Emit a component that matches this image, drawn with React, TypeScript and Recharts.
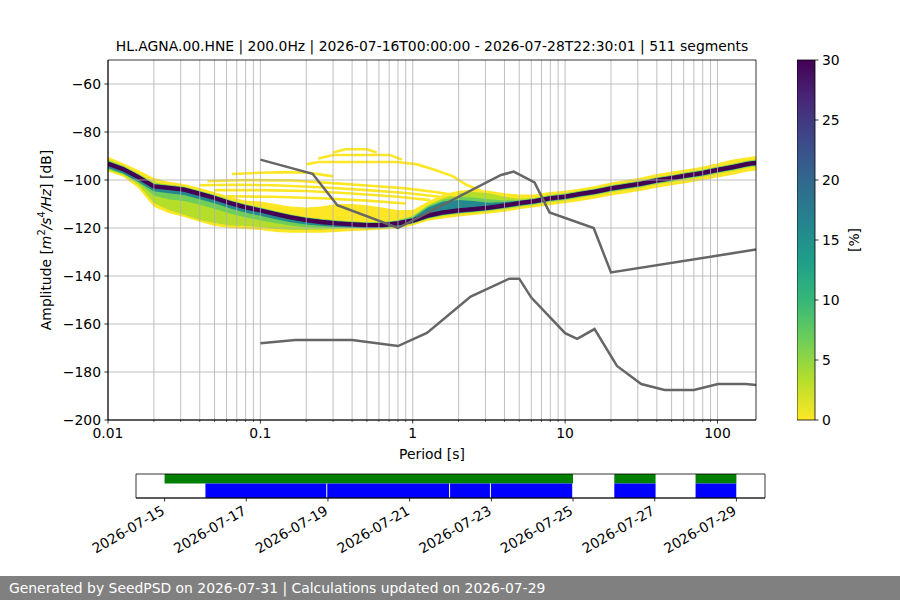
import React from 'react';
import {
  ComposedChart, Area, Line, XAxis, YAxis, ReferenceLine, ReferenceArea, BarChart, Bar,
} from 'recharts';

const FONT = '"DejaVu Sans", "Liberation Sans", sans-serif';
const FS = 13.9;

// ---------- PPSD histogram, read per period column ----------
const periods = [0.01, 0.0126, 0.0158, 0.02, 0.025, 0.0316, 0.04, 0.05, 0.063, 0.079, 0.1, 0.126, 0.158, 0.2, 0.25, 0.316, 0.4, 0.5, 0.63, 0.79, 1, 1.26, 1.58, 2, 2.5, 3.16, 4, 5, 6.3, 7.9, 10, 12.6, 15.8, 20, 25, 31.6, 40, 50, 63, 79, 100, 126, 158, 179];
const modeDb = [-93.2, -95.5, -98.8, -102.7, -103.3, -104, -105.8, -107.5, -109.6, -111.3, -112.7, -114.2, -115.6, -116.7, -117.5, -118.1, -118.5, -118.8, -118.8, -118.1, -116.9, -114.8, -113.5, -112.7, -112.1, -111.5, -110.6, -109.6, -108.8, -107.7, -106.9, -105.8, -104.8, -103.5, -102.5, -101.5, -100.2, -99.2, -98.1, -97.1, -95.8, -94.6, -93.3, -92.9];
const yellowTop = [-90.3, -93, -95.8, -99.2, -100.7, -101.7, -103.3, -105, -107, -108.5, -109, -110, -111, -111.5, -111, -110, -110, -110.5, -111.5, -112.5, -112.5, -109, -106, -104.5, -104, -104.5, -105.5, -106, -106, -105, -104.5, -103.5, -102.5, -101, -100, -99, -97.5, -96.5, -95.5, -94.5, -93, -91.5, -90.5, -90];
const yellowBottom = [-96.5, -98.6, -103.3, -111.1, -113.8, -115.4, -117.4, -119.2, -120, -120.4, -120.8, -121.7, -122, -122, -122, -121.7, -121.3, -121, -120.6, -120.2, -119, -117, -116, -115.2, -114.6, -114, -113.2, -112.2, -111.4, -110.5, -109.7, -108.7, -107.7, -106.5, -105.5, -104.5, -103.2, -102.2, -101.2, -100.1, -99, -97.8, -96.5, -96];
const limeTop = [-91.5, -94, -97.3, -100.8, -102, -102.8, -104.5, -106.3, -108.3, -110, -111.5, -113, -114.5, -115.6, -116.3, -116.9, -117.3, -117.6, -117.6, -116.9, -115, -110.5, -107.5, -105.5, -105, -105.5, -107, -107.8, -107.5, -106.3, -105.5, -104.5, -103.5, -102.2, -101.2, -100.2, -98.9, -97.9, -96.8, -95.8, -94.5, -93.2, -91.9, -91.5];
const limeBottom = [-95.8, -97.9, -102, -109.6, -112.5, -114.6, -116.7, -117.9, -119, -119.2, -119.6, -120.4, -120.8, -120.8, -120.8, -120.4, -120, -120.2, -120, -119.6, -118.3, -116.3, -115, -114.2, -113.6, -113, -112.2, -111.2, -110.4, -109.3, -108.5, -107.4, -106.4, -105.1, -104.1, -103.1, -101.8, -100.8, -99.7, -98.7, -97.4, -96.2, -94.9, -94.5];
const greenTop = [-92, -94.3, -97.6, -101.5, -102.1, -102.8, -104.6, -106.3, -108.4, -110.1, -111.5, -113, -114.4, -115.5, -116.3, -116.9, -117.3, -117.6, -117.6, -116.9, -115.2, -110.8, -108.2, -107, -107.3, -108, -108.5, -108.4, -107.6, -106.5, -105.7, -104.6, -103.6, -102.3, -101.3, -100.3, -99, -98, -96.9, -95.9, -94.6, -93.4, -92.1, -91.7];
const greenBottom = [-95.5, -97.5, -101, -106.5, -108, -108.7, -110.3, -112, -114, -115.5, -116.8, -118, -119, -119.7, -120, -120, -119.8, -119.8, -119.6, -119.2, -117.9, -115.8, -114.5, -113.7, -113.1, -112.5, -111.7, -110.7, -109.9, -108.8, -108, -106.9, -105.9, -104.6, -103.6, -102.6, -101.3, -100.3, -99.2, -98.2, -96.9, -95.7, -94.4, -94];
const tealTop = [-92.3, -94.6, -97.9, -101.8, -102.4, -103.1, -104.9, -106.6, -108.7, -110.4, -111.8, -113.3, -114.7, -115.8, -116.6, -117.2, -117.6, -117.9, -117.9, -117.2, -115.8, -111.5, -109, -108.3, -108.8, -109.5, -109.2, -108.6, -108, -106.9, -106.1, -105, -104, -102.7, -101.7, -100.7, -99.4, -98.4, -97.3, -96.3, -95, -93.8, -92.5, -92.1];
const tealBottom = [-95, -97.3, -100.8, -104.7, -105.5, -106.2, -108, -109.7, -111.8, -113.5, -114.9, -116.4, -117.6, -118.5, -119.1, -119.6, -119.9, -120.1, -120, -119.3, -118, -115.9, -114.6, -113.8, -113.2, -112.6, -111.7, -110.7, -109.9, -108.8, -108, -106.9, -105.9, -104.6, -103.6, -102.6, -101.3, -100.3, -99.2, -98.2, -96.9, -95.7, -94.4, -94];

// sparse low-percentage tracks above the mode
const stripeAP = [0.3, 0.36, 0.5, 0.58];
const stripeADb = [-88.5, -87.2, -87.2, -88.5];
const stripeBP = [0.24, 0.3, 0.71, 0.85];
const stripeBDb = [-91, -89.6, -89.6, -91.5];
const stripeCP = [0.2, 0.24, 0.8, 1.07, 1.36, 1.84, 2.25, 2.8];
const stripeCDb = [-93.5, -92.5, -92.5, -93.5, -95.5, -98.5, -102, -104.5];
const stripeDP = [0.065, 0.1, 0.15, 0.21, 0.3];
const stripeDDb = [-97.5, -97, -96.7, -97, -98.5];
const stripeEP = [0.045, 0.08, 0.16, 0.3, 0.55, 0.9, 1.4, 2];
const stripeEDb = [-100.5, -100, -100.2, -101.3, -102.5, -103.5, -105, -106.5];
const stripeHP = [0.04, 0.07, 0.12, 0.25, 0.5, 0.9, 1.5];
const stripeHDb = [-102.2, -102, -102.2, -103, -104.2, -105.4, -107];
const stripeFP = [0.05, 0.1, 0.2, 0.4, 0.8, 1.3];
const stripeFDb = [-104.2, -104.2, -104.6, -105.6, -107, -108.4];
const stripeGP = [0.06, 0.12, 0.25, 0.5, 0.9];
const stripeGDb = [-106.8, -107, -107.6, -108.6, -109.8];

// Peterson noise models
const nhnmP = [0.1, 0.22, 0.32, 0.8, 3.8, 4.6, 6.3, 7.9, 15.4, 20, 179];
const nhnmDb = [-91.5, -97.4, -110.5, -120, -97.9, -96.5, -101, -113.5, -120, -138.5, -129];
const nlnmP = [0.1, 0.17, 0.4, 0.8, 1.24, 2.4, 4.3, 5, 6, 10, 12, 15.6, 21.9, 31.6, 45, 70, 101, 154, 179];
const nlnmDb = [-168, -166.7, -166.7, -169.2, -163.7, -148.6, -141.1, -141.1, -149, -163.8, -166.2, -162.1, -177.5, -185, -187.5, -187.5, -185, -185, -185.4];

// axes
const xDomain = [0.01, 179];
const yDomain = [-200, -50];
const xMajorTicks = [0.01, 0.1, 1, 10, 100];
const xMinorTicks = [0.02, 0.03, 0.04, 0.05, 0.06, 0.07, 0.08, 0.09, 0.2, 0.3, 0.4, 0.5, 0.6, 0.7, 0.8, 0.9, 2, 3, 4, 5, 6, 7, 8, 9, 20, 30, 40, 50, 60, 70, 80, 90];
const yTicks = [-200, -180, -160, -140, -120, -100, -80, -60];
const cbTicks = [0, 5, 10, 15, 20, 25, 30];

// timeline
const dateTicks = ['2026-07-15', '2026-07-17', '2026-07-19', '2026-07-21', '2026-07-23', '2026-07-25', '2026-07-27', '2026-07-29'];
const timeDomain = ['2026-07-14T07:12', '2026-07-29T16:48'];
const greenSpans = [['2026-07-15T00:00', '2026-07-25T00:00'], ['2026-07-26T00:15', '2026-07-27T00:30'], ['2026-07-28T00:00', '2026-07-29T00:00']];
const blueSpans = [['2026-07-16T00:00', '2026-07-18T23:00'], ['2026-07-18T23:35', '2026-07-21T23:10'], ['2026-07-21T23:45', '2026-07-22T23:10'], ['2026-07-22T23:45', '2026-07-24T23:30'], ['2026-07-26T00:15', '2026-07-27T00:30'], ['2026-07-28T00:00', '2026-07-28T23:55']];

const viridisR = ['#440154', '#482878', '#3e4989', '#31688e', '#26828e', '#1f9e89', '#35b779', '#6ece58', '#b5de2b', '#fde725'];

const bandRows = periods.map((p, i) => ({
  p,
  yel: [yellowBottom[i], yellowTop[i]],
  lime: [limeBottom[i], limeTop[i]],
  grn: [greenBottom[i], greenTop[i]],
  teal: [tealBottom[i], tealTop[i]],
  mode: modeDb[i],
}));
const toRows = (ps: number[], ds: number[]) => ps.map((p, i) => ({ p, db: ds[i] }));
const stripes = [
  toRows(stripeAP, stripeADb), toRows(stripeBP, stripeBDb), toRows(stripeCP, stripeCDb),
  toRows(stripeDP, stripeDDb), toRows(stripeEP, stripeEDb), toRows(stripeHP, stripeHDb),
  toRows(stripeFP, stripeFDb), toRows(stripeGP, stripeGDb),
];
const nhnmRows = toRows(nhnmP, nhnmDb);
const nlnmRows = toRows(nlnmP, nlnmDb);
const allXTicks = [...xMajorTicks, ...xMinorTicks].sort((a, b) => a - b);

const toMs = (s: string) => Date.parse(s.length === 10 ? s + 'T00:00:00Z' : s + ':00Z');
const timeRows = [...greenSpans, ...blueSpans].map((s) => ({ t: toMs(s[0]), y: 0.5 }));

const minus = (v: number) => String(v).replace('-', '\u2212');

const XTick = (props: any) => {
  const { x, y, payload } = props;
  const major = xMajorTicks.includes(payload.value);
  return (
    <g>
      <line x1={x} x2={x} y1={y} y2={y + (major ? 3.5 : 2)} stroke="#000" strokeWidth={major ? 0.8 : 0.6} />
      {major && (
        <text x={x} y={y + 17.6} textAnchor="middle" fontSize={FS} fontFamily={FONT} fill="#000">
          {String(payload.value)}
        </text>
      )}
    </g>
  );
};

const YTick = (props: any) => {
  const { x, y, payload } = props;
  return (
    <g>
      <line x1={x} x2={x - 3.5} y1={y} y2={y} stroke="#000" strokeWidth={0.8} />
      <text x={x - 7} y={y + 5} textAnchor="end" fontSize={FS} fontFamily={FONT} fill="#000">
        {minus(payload.value)}
      </text>
    </g>
  );
};

const CbTick = (props: any) => {
  const { x, y, payload } = props;
  return (
    <g>
      <line x1={x} x2={x + 3.5} y1={y} y2={y} stroke="#000" strokeWidth={0.8} />
      <text x={x + 7} y={y + 5} textAnchor="start" fontSize={FS} fontFamily={FONT} fill="#000">
        {String(payload.value)}
      </text>
    </g>
  );
};

const DateTick = (props: any) => {
  const { x, y, payload } = props;
  const d = new Date(payload.value);
  const label = d.toISOString().slice(0, 10);
  return (
    <g>
      <line x1={x} x2={x} y1={y} y2={y + 3.5} stroke="#000" strokeWidth={0.8} />
      <g transform={`translate(${x + 1},${y + 15.5})`}>
        <text transform="rotate(-30)" x={0} y={0} textAnchor="end" fontSize={FS} fontFamily={FONT} fill="#000">
          {label}
        </text>
      </g>
    </g>
  );
};

const abs = (left: number, top: number, extra: any = {}) => ({ position: 'absolute' as const, left, top, ...extra });

export default function App() {
  return (
    <div style={{ position: 'absolute', left: 0, top: 0, width: 900, height: 600, background: '#fff', fontFamily: FONT, overflow: 'hidden' }}>
      <svg width={0} height={0} style={{ position: 'absolute' }}>
        <defs>
          <linearGradient id="viridisR" x1="0" y1="0" x2="0" y2="1">
            {viridisR.map((c, i) => (
              <stop key={i} offset={i / (viridisR.length - 1)} stopColor={c} />
            ))}
          </linearGradient>
        </defs>
      </svg>

      {/* title */}
      <div style={abs(0, 38, { width: 864, textAlign: 'center', fontSize: FS, lineHeight: '16px', whiteSpace: 'nowrap', color: '#000' })}>
        HL.AGNA.00.HNE | 200.0Hz | 2026-07-16T00:00:00 - 2026-07-28T22:30:01 | 511 segments
      </div>

      {/* main PPSD chart */}
      <div style={abs(0, 0)}>
        <ComposedChart width={900} height={470} data={bandRows} margin={{ top: 60, right: 144, bottom: 20, left: 48 }}>
          <XAxis
            dataKey="p" type="number" scale="log" domain={xDomain} allowDataOverflow
            ticks={allXTicks} interval={0} tick={<XTick />} tickLine={false} tickSize={0} tickMargin={0}
            axisLine={{ stroke: '#000', strokeWidth: 0.8 }} height={30}
          />
          <YAxis
            type="number" domain={yDomain} allowDataOverflow ticks={yTicks} interval={0}
            tick={<YTick />} tickLine={false} tickSize={0} tickMargin={0}
            axisLine={{ stroke: '#000', strokeWidth: 0.8 }} width={60}
          />
          <Area dataKey="yel" type="linear" fill="#fde725" fillOpacity={1} stroke="none" isAnimationActive={false} dot={false} activeDot={false} zIndex={100} />
          <Area dataKey="lime" type="linear" fill="#b5de2b" fillOpacity={1} stroke="none" isAnimationActive={false} dot={false} activeDot={false} zIndex={101} />
          <Area dataKey="grn" type="linear" fill="#6ece58" fillOpacity={1} stroke="none" isAnimationActive={false} dot={false} activeDot={false} zIndex={102} />
          <Area dataKey="teal" type="linear" fill="#23898e" fillOpacity={1} stroke="none" isAnimationActive={false} dot={false} activeDot={false} zIndex={103} />
          {stripes.map((rows, i) => (
            <Line key={'s' + i} data={rows} dataKey="db" type="linear" stroke="#fde725" strokeWidth={2.6} dot={false} activeDot={false} isAnimationActive={false} zIndex={150} />
          ))}
          <Line dataKey="mode" type="linear" stroke="#440154" strokeWidth={4.3} dot={false} activeDot={false} isAnimationActive={false} zIndex={160} />
          {allXTicks.filter((t) => t > xDomain[0]).map((t) => (
            <ReferenceLine key={'gx' + t} x={t} stroke="#b0b0b0" strokeWidth={0.8} zIndex={300} />
          ))}
          {yTicks.filter((t) => t > yDomain[0]).map((t) => (
            <ReferenceLine key={'gy' + t} y={t} stroke="#b0b0b0" strokeWidth={0.8} zIndex={300} />
          ))}
          <Line data={nhnmRows} dataKey="db" type="linear" stroke="#666666" strokeWidth={2.5} dot={false} activeDot={false} isAnimationActive={false} zIndex={400} />
          <Line data={nlnmRows} dataKey="db" type="linear" stroke="#666666" strokeWidth={2.5} dot={false} activeDot={false} isAnimationActive={false} zIndex={400} />
          <ReferenceArea x1={xDomain[0]} x2={xDomain[1]} y1={yDomain[0]} y2={yDomain[1]} fill="none" fillOpacity={0} stroke="#000" strokeWidth={0.8} zIndex={450} />
        </ComposedChart>
      </div>

      {/* axis labels */}
      <div style={abs(0, 446, { width: 864, textAlign: 'center', fontSize: FS, lineHeight: '16px', color: '#000' })}>Period [s]</div>
      <div style={abs(44, 240, { transform: 'translate(-50%, -50%) rotate(-90deg)', fontSize: FS, whiteSpace: 'nowrap', color: '#000', lineHeight: '16px' })}>
        Amplitude [<i>m</i><sup style={{ fontSize: '0.7em' }}>2</sup><i>/s</i><sup style={{ fontSize: '0.7em' }}>4</sup><i>/Hz</i>] [dB]
      </div>

      {/* colorbar */}
      <div style={abs(797, 0)}>
        <BarChart width={100} height={600} data={[{ n: '%', v: cbTicks[cbTicks.length - 1] }]} margin={{ top: 60, right: 0, bottom: 180, left: 0 }} barCategoryGap={0}>
          <XAxis dataKey="n" hide />
          <YAxis
            orientation="right" type="number" domain={[cbTicks[0], cbTicks[cbTicks.length - 1]]} ticks={cbTicks} interval={0}
            tick={<CbTick />} tickLine={false} tickSize={0} tickMargin={0} axisLine={false} width={82}
          />
          <Bar dataKey="v" fill="url(#viridisR)" stroke="#000" strokeWidth={0.8} isAnimationActive={false} />
        </BarChart>
      </div>
      <div style={abs(854, 240, { transform: 'translate(-50%, -50%) rotate(-90deg)', fontSize: FS, whiteSpace: 'nowrap', color: '#000', lineHeight: '16px' })}>[%]</div>

      {/* data availability timeline */}
      <div style={abs(0, 440)}>
        <ComposedChart width={900} height={136} data={timeRows} margin={{ top: 34, right: 135, bottom: 18, left: 136 }}>
          <XAxis
            dataKey="t" type="number" domain={timeDomain.map(toMs)} allowDataOverflow ticks={dateTicks.map(toMs)} interval={0}
            tick={<DateTick />} tickLine={false} tickSize={0} tickMargin={0} axisLine={{ stroke: '#000', strokeWidth: 0.8 }} height={60}
          />
          <YAxis type="number" domain={[0, 1]} allowDataOverflow hide />
          <Line dataKey="y" stroke="none" strokeWidth={0} dot={false} activeDot={false} isAnimationActive={false} />
          {greenSpans.map((s, i) => (
            <ReferenceArea key={'g' + i} x1={toMs(s[0])} x2={toMs(s[1])} y1={0.6} y2={1} fill="#008000" fillOpacity={1} stroke="none" ifOverflow="visible" />
          ))}
          {blueSpans.map((s, i) => (
            <ReferenceArea key={'b' + i} x1={toMs(s[0])} x2={toMs(s[1])} y1={0} y2={0.6} fill="#0000ff" fillOpacity={1} stroke="none" ifOverflow="visible" />
          ))}
          <ReferenceArea x1={toMs(timeDomain[0])} x2={toMs(timeDomain[1])} y1={0} y2={1} fill="none" fillOpacity={0} stroke="#000" strokeWidth={0.8} ifOverflow="visible" />
        </ComposedChart>
      </div>

      {/* footer */}
      <div style={abs(0, 576, { width: 900, height: 24, background: '#808080', color: '#fff', fontSize: FS, lineHeight: '24px', paddingLeft: 9, boxSizing: 'border-box', whiteSpace: 'nowrap' })}>
        Generated by SeedPSD on 2026-07-31 | Calculations updated on 2026-07-29
      </div>
    </div>
  );
}
